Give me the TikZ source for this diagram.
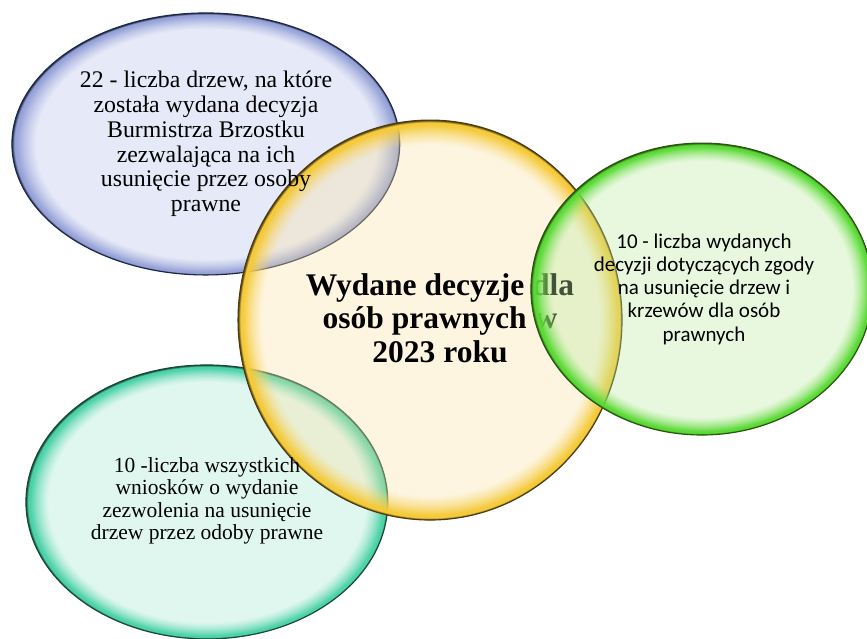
\documentclass[tikz,border=0pt]{standalone}
\usepackage{fontspec}
\setmainfont{Liberation Serif}
\newfontfamily\calibrifont{Carlito}
\usetikzlibrary{shapes.geometric,fadings}

% interior colours are darker, the fading lets them through at 35%
\definecolor{blueFill}{HTML}{B8C0E8}
\definecolor{blueRim}{HTML}{97A3D8}
\definecolor{blueEdge}{HTML}{1E2846}
\definecolor{yellowFill}{HTML}{F9E2A6}
\definecolor{yellowRim}{HTML}{F5CA3A}
\definecolor{yellowEdge}{HTML}{4A3A10}
\definecolor{greenFill}{HTML}{BDEBA1}
\definecolor{greenRim}{HTML}{5ADA36}
\definecolor{greenEdge}{HTML}{28560E}
\definecolor{tealFill}{HTML}{A6E8D1}
\definecolor{tealRim}{HTML}{4CD2A8}
\definecolor{tealEdge}{HTML}{184836}

\colorlet{bubfill}{blueFill}
\colorlet{bubrim}{blueRim}
\colorlet{bubedge}{blueEdge}
\pgfdeclareradialshading[bubfill,bubrim,bubedge]{bubble}{\pgfpoint{0bp}{0bp}}{%
  color(0bp)=(bubfill); color(21.8bp)=(bubfill); color(24.3bp)=(bubrim);
  color(24.7bp)=(bubrim); color(25bp)=(bubedge); color(50bp)=(bubedge)}
\pgfdeclareradialshading{bubfadeshade}{\pgfpoint{0bp}{0bp}}{%
  color(0bp)=(transparent!65); color(21.8bp)=(transparent!65);
  color(24.3bp)=(transparent!0); color(50bp)=(transparent!0)}
\pgfdeclarefading{bubfade}{\pgfuseshading{bubfadeshade}}

\tikzset{
  bub/.style n args={3}{ellipse, draw=#3, line width=1.1pt,
    /utils/exec={\colorlet{bubfill}{#1}\colorlet{bubrim}{#2}\colorlet{bubedge}{#3}},
    shading=bubble, path fading=bubfade, inner sep=0pt},
  bubtext/.style={align=center, inner sep=0pt},
}

\begin{document}
\begin{tikzpicture}[x=1pt,y=-1pt]
    \useasboundingbox (0,0) rectangle (867,639);
    % The bubbles
    \node[bub={blueFill}{blueRim}{blueEdge}, minimum width=388pt, minimum height=262pt]
        (trees) at (206,144) {};
    \node[bub={tealFill}{tealRim}{tealEdge}, minimum width=362pt, minimum height=274pt]
        (requests) at (207,502) {};
    \node[bub={yellowFill}{yellowRim}{yellowEdge}, minimum width=384pt, minimum height=400pt]
        (main) at (430,320) {};
    % The texts
    \node[bubtext, font=\fontsize{23.8}{24.8}\selectfont] (treestext) at (trees.center)
        {22 - liczba drzew, na które\\została wydana decyzja\\Burmistrza Brzostku\\
         zezwalająca na ich\\usunięcie przez osoby\\prawne};
    \node[bubtext, font=\fontsize{21.5}{22.3}\selectfont] (requeststext) at ([yshift=1pt]requests.center)
        {10 -liczba wszystkich\\wniosków o wydanie\\zezwolenia na usunięcie\\
         drzew przez odoby prawne};
    \node[bubtext, font=\fontsize{31.5}{33.5}\bfseries\selectfont]
        (title) at ([xshift=10pt,yshift=2pt]main.center)
        {Wydane decyzje dla\\osób prawnych w\\2023 roku};
    \node[bub={greenFill}{greenRim}{greenEdge}, minimum width=342pt, minimum height=292pt]
        (decisions) at (702,289) {};
    \node[bubtext, font=\calibrifont\fontsize{21}{23.2}\selectfont] (decisionstext)
        at ([xshift=2pt]decisions.center)
        {10 - liczba wydanych\\decyzji dotyczących zgody\\na usunięcie drzew i\\
         krzewów dla osób\\prawnych};
\end{tikzpicture}
\end{document}
